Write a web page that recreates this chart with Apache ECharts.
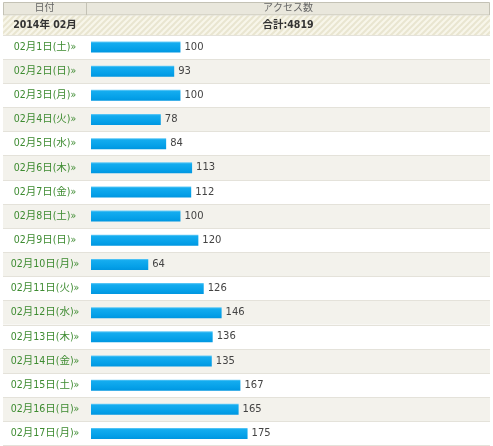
<!DOCTYPE html>
<html><head><meta charset="utf-8">
<script src="https://cdn.jsdelivr.net/npm/echarts@6/dist/echarts.min.js"></script>
<style>html,body{margin:0;padding:0;background:#fff}#c{width:493px;height:446px}</style>
</head><body><div id="c"></div>
<script>
const categories = ['02月1日(土)»','02月2日(日)»','02月3日(月)»','02月4日(火)»','02月5日(水)»','02月6日(木)»','02月7日(金)»','02月8日(土)»','02月9日(日)»','02月10日(月)»','02月11日(火)»','02月12日(水)»','02月13日(木)»','02月14日(金)»','02月15日(土)»','02月16日(日)»','02月17日(月)»'];
const accessCounts = [100,93,100,78,84,113,112,100,120,64,126,146,136,135,167,165,175];
const headerDate = '日付';
const headerAccess = 'アクセス数';
const monthLabel = '2014年 02月';
const totalLabel = '合計:4819';

const FONT = '"DejaVu Sans","Noto Sans CJK JP",sans-serif';
const FONT_C = '"DejaVu Sans Condensed","DejaVu Sans","Noto Sans CJK JP",sans-serif';

// hatch pattern
const pc = document.createElement('canvas');
pc.width = 6; pc.height = 6;
const px = pc.getContext('2d');
px.fillStyle = '#f8f6ea'; px.fillRect(0,0,6,6);
px.strokeStyle = '#e9e5d0'; px.lineWidth = 2;
for (let k=-2;k<=2;k++){ px.beginPath(); px.moveTo(k*6-1,7); px.lineTo(k*6+7,-1); px.stroke(); }

const chart = echarts.init(document.getElementById('c'), null, {renderer:'canvas'});
chart.setOption({
  animation:false,
  backgroundColor:'#fff',
  grid:[
    {left:3, right:3, top:35, height:410.5, show:false},
    {left:91, right:3, top:35, height:410.5, show:false}
  ],
  xAxis:[
    {gridIndex:0, type:'value', show:false, min:0, max:1},
    {gridIndex:1, type:'value', show:false, min:0, max:446}
  ],
  yAxis:[
    {gridIndex:0, type:'category', inverse:true, data:categories,
     axisLine:{show:false}, axisTick:{show:false}, axisLabel:{show:false},
     splitArea:{show:true, areaStyle:{color:['#ffffff','#f3f2ec']}},
     splitLine:{show:true, lineStyle:{color:'#e4e2da', width:1}}},
    {gridIndex:1, type:'category', inverse:true, data:categories,
     axisLine:{show:false}, axisTick:{show:false},
     axisLabel:{align:'center', margin:46, color:'#3d8b30', fontSize:10.5, fontFamily:FONT_C}}
  ],
  series:[{
    type:'bar', xAxisIndex:1, yAxisIndex:1, data:accessCounts,
    barWidth:11,
    itemStyle:{color:new echarts.graphic.LinearGradient(0,0,0,1,[
      {offset:0,color:'#6ccdf7'},{offset:0.15,color:'#14acef'},{offset:0.7,color:'#05a0e8'},{offset:1,color:'#0096e0'}])},
    label:{show:true, position:'right', distance:4, color:'#444', fontSize:10, fontFamily:FONT}
  }],
  graphic:[
    {type:'rect', shape:{x:3.5,y:2.5,width:486,height:12.5}, style:{fill:'#e9e7dc', stroke:'#c4c2b5', lineWidth:1}},
    {type:'line', shape:{x1:86.5,y1:2.5,x2:86.5,y2:15}, style:{stroke:'#c4c2b5', lineWidth:1}},
    {type:'rect', shape:{x:3,y:15.5,width:487,height:19.5}, style:{fill:{image:pc, repeat:'repeat'}}},
    {type:'text', x:44.5, y:8.5, style:{text:headerDate, fill:'#666', font:'10px '+FONT, textAlign:'center', textVerticalAlign:'middle'}},
    {type:'text', x:288, y:8.5, style:{text:headerAccess, fill:'#666', font:'10px '+FONT, textAlign:'center', textVerticalAlign:'middle'}},
    {type:'text', x:45, y:25.5, style:{text:monthLabel, fill:'#333', font:'bold 10.5px '+FONT_C, textAlign:'center', textVerticalAlign:'middle'}},
    {type:'text', x:288, y:25.5, style:{text:totalLabel, fill:'#333', font:'bold 10.5px '+FONT_C, textAlign:'center', textVerticalAlign:'middle'}}
  ]
});
</script></body></html>
